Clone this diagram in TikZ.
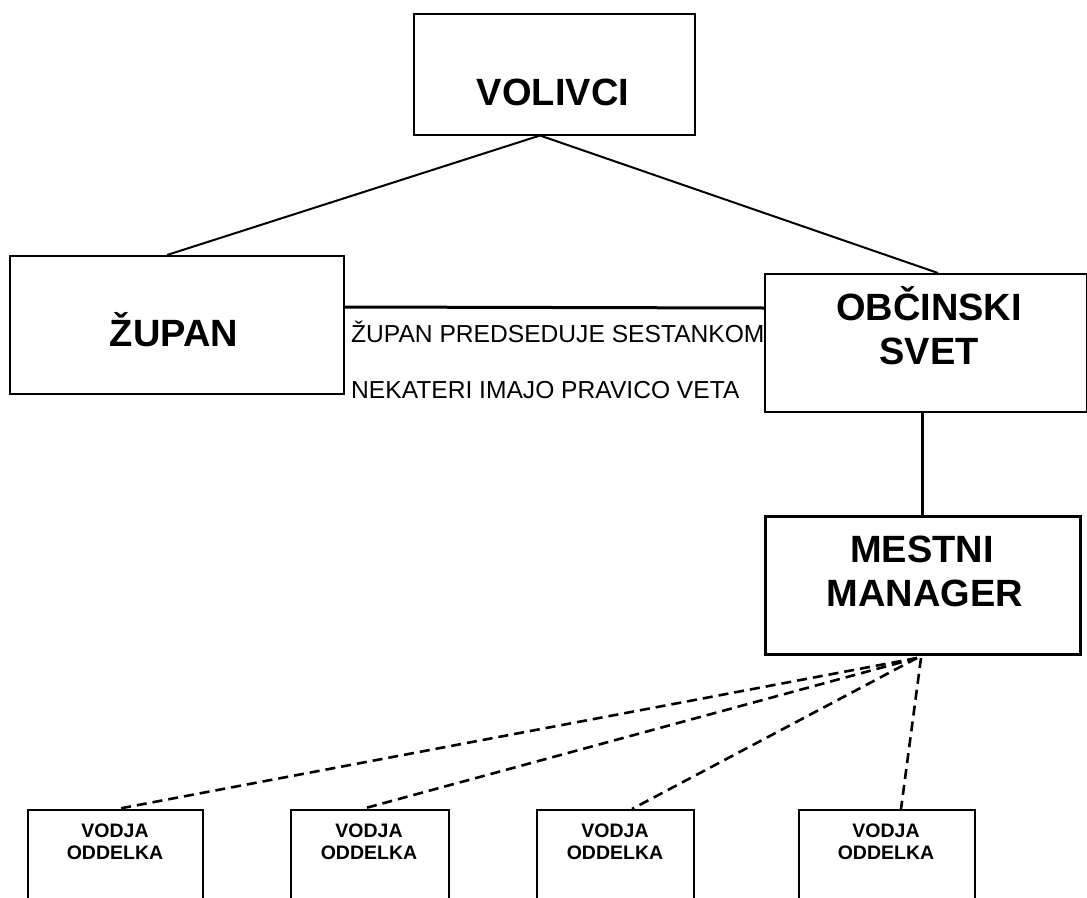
\documentclass[tikz,border=0pt]{standalone}
\usepackage{fontspec}
\setmainfont{Liberation Sans}
\usetikzlibrary{calc}
\begin{document}
\begin{tikzpicture}[x=1pt,y=-1pt,
  box/.style={draw, rectangle, inner sep=0pt, anchor=north west, line width=1.5pt},
  thickbox/.style={box, line width=3pt},
  big/.style={font=\bfseries\fontsize{38}{44}\selectfont, inner sep=0pt, anchor=base},
  small/.style={font=\bfseries\fontsize{19.5}{22}\selectfont, inner sep=0pt, anchor=base},
  note/.style={font=\fontsize{24.6}{28}\selectfont, inner sep=0pt, anchor=base west},
  link/.style={line width=2pt},
  strong/.style={line width=3pt},
  dashlink/.style={line width=2.6pt, dash pattern=on 10pt off 6pt}]
  \useasboundingbox (0,0) rectangle (1087,897);
  \clip (0,0) rectangle (1087,897);

  % top level
  \node[box, minimum width=281pt, minimum height=121pt] (vol) at (413,13) {};
  \node[big] (voltx) at (553,105) {VOLIVCI};

  % mayor and council
  \node[box, minimum width=334pt, minimum height=138pt] (zup) at (9,255) {};
  \node[big] (zuptx) at (174,346) {ŽUPAN};

  \node[box, minimum width=322pt, minimum height=138pt] (obc) at (764,273) {};
  \node[big] (obctxa) at (929,320) {OBČINSKI};
  \node[big] (obctxb) at (929,364) {SVET};

  % relation notes
  \node[note] (noteA) at (351,342) {ŽUPAN PREDSEDUJE SESTANKOM};
  \node[note] (noteB) at (351,398) {NEKATERI IMAJO PRAVICO VETA};

  % city manager
  \node[thickbox, minimum width=315pt, minimum height=138pt] (mgr) at (764,515) {};
  \node[big] (mgrtxa) at (922,562) {MESTNI};
  \node[big] (mgrtxb) at (925,606) {MANAGER};

  % department heads
  \node[box, minimum width=175pt, minimum height=120pt] (d1) at (27,809) {};
  \node[box, minimum width=158pt, minimum height=120pt] (d2) at (290,809) {};
  \node[box, minimum width=157pt, minimum height=120pt] (d3) at (536,809) {};
  \node[box, minimum width=176pt, minimum height=120pt] (d4) at (798,809) {};
  \foreach \d/\cx in {d1/115, d2/369, d3/615, d4/886} {
    \node[small] (\d a) at (\cx,837) {VODJA};
    \node[small] (\d b) at (\cx,859) {ODDELKA};
  }

  % solid connectors
  \draw[link] ($(vol.south west)+(127,0)$) -- ($(zup.north west)+(158,0)$);
  \draw[link] ($(vol.south west)+(127,0)$) -- ($(obc.north west)+(174,0)$);
  \draw[strong] ($(zup.north east)+(0,52)$) -- ($(obc.north west)+(0,35)$);
  \draw[strong] ($(obc.south west)+(158,0)$) -- ($(mgr.north west)+(158,0)$);

  % dashed connectors to departments
  \draw[dashlink] ($(mgr.south west)+(153,2)$) -- ($(d1.north west)+(90,0)$);
  \draw[dashlink] ($(mgr.south west)+(153,2)$) -- ($(d2.north west)+(72,0)$);
  \draw[dashlink] ($(mgr.south west)+(153,2)$) -- ($(d3.north west)+(96,0)$);
  \draw[dashlink] ($(mgr.south west)+(157,2)$) -- ($(d4.north west)+(103,0)$);
\end{tikzpicture}
\end{document}
